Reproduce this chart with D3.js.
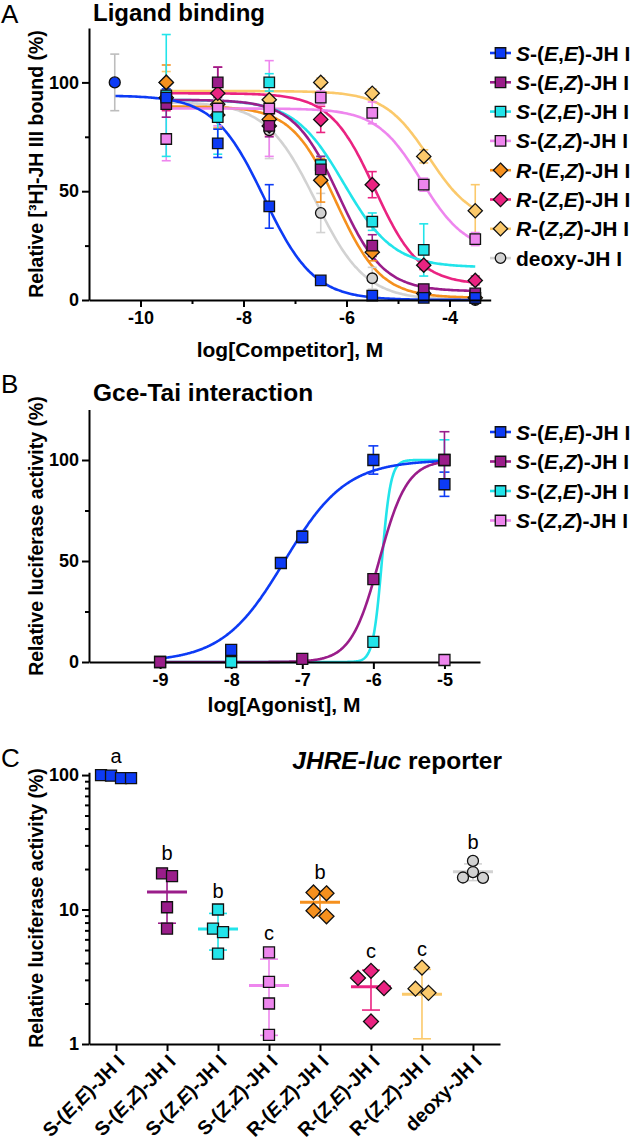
<!DOCTYPE html>
<html><head><meta charset="utf-8">
<script src="https://cdn.jsdelivr.net/npm/d3@7"></script>
<style>
html,body{margin:0;padding:0;background:#fff;}
svg{display:block;}
</style></head><body>
<svg id="chart" width="633" height="1145"></svg>
<script>
// ================= DATA =================
// Series (shared by all panels)
const seriesNames = ["S-(E,E)-JH I","S-(E,Z)-JH I","S-(Z,E)-JH I","S-(Z,Z)-JH I","R-(E,Z)-JH I","R-(Z,E)-JH I","R-(Z,Z)-JH I","deoxy-JH I"];

// ---- Panel A: Ligand binding (log[Competitor], M) ----
const aConc = [-9.5, -8.5, -7.5, -6.5, -5.5, -4.5, -3.5];
const aSEE   = [93, 72, 43, 9, 2, 1, 1],        aSEEerr   = [4, 6.5, 10, 1, 1, 0.5, 0.5];
const aSEZ   = [90, 100, 80, 60, 25, 5, 3],     aSEZerr   = [6, 7, 5, 6, 5, 2, 1];
const aSZE   = [94, 84, 100, 62, 36, 23, 1],    aSZEerr   = [28, 17, 4, 4, 4, 12, 1];
const aSZZ   = [74, 88, 88, 93, 86, 53, 28],    aSZZerr   = [10, 8, 22, 3, 5, 3, 3];
const aREZ   = [100, 85, 83, 55, 22, 3, 1],     aREZerr   = [8, 6, 4, 10, 4, 1, 1];
const aRZE   = [93, 95, 80, 83, 53, 16, 9],     aRZEerr   = [6, 12, 4, 6, 6, 2, 2];
const aRZZ   = [100, 90, 92, 100, 95, 66, 41],  aRZZerr   = [5, 5, 4, 2, 2, 3, 12];
const aDeoxy = [93, 88, 78, 40, 10, 2, 0],      aDeoxyErr = [4, 4, 13, 9, 5, 1, 1];
const aControlConc = -10.5, aControl = 100, aControlErr = 13;
// fitted curve parameters (one per series)
const aTop        = [94, 92, 92, 88, 89, 95, 96, 91];
const aBottom     = [0, 4, 15, 22, 1, 7, 35, 0];
const aLogIC50    = [-7.6, -6.15, -6.05, -4.55, -6.2, -5.45, -4.4, -6.6];
const aHill       = [0.9, 1, 0.9, 1, 1, 1, 1, 0.9];
const aCurveStart = [-10.5, -9.5, -9.5, -9.5, -9.5, -9.5, -9.5, -9.5];
const aCurveEnd   = -3.5;
const aXTicks = [-10, -8, -6, -4], aXMinor = [-9, -7, -5];
const aYTicks = [0, 50, 100], aYMinor = [25, 75];

// ---- Panel B: Gce-Tai interaction (log[Agonist], M) ----
const bConcSEE = [-9, -8, -7.301, -7, -6, -5], bSEE = [0, 6, 49, 62, 100, 88], bSEEerr = [0.5, 1, 1.5, 3, 7, 6];
const bConcSEZ = [-9, -7, -6, -5],             bSEZ = [0, 1.5, 41, 100],       bSEZerr = [0.5, 0.5, 2, 14];
const bConcSZE = [-8, -6, -5],                 bSZE = [0, 10, 100],            bSZEerr = [0.5, 1, 10];
const bConcSZZ = [-5],                         bSZZ = [1],                     bSZZerr = [0.5];
const bTop = [100, 100, 100], bBottom = [0, 0, 0], bLogEC50 = [-7.25, -5.92, -5.88], bHill = [1, 2.2, 7];
const bCurveStart = -9, bCurveEnd = -5;
const bXTicks = [-9, -8, -7, -6, -5];
const bYTicks = [0, 50, 100], bYMinor = [25, 75];

// ---- Panel C: JHRE-luc reporter (replicates, %) ----
const cSEE   = [99, 95, 95, 100];
const cSEZ   = [17.7, 18.6, 10.4, 7.2];
const cSZE   = [10, 7.2, 6.8, 4.7];
const cSZZ   = [4.8, 2.9, 2.0, 1.17];
const cREZ   = [13.4, 13.2, 9.8, 8.9];
const cRZE   = [3.1, 3.5, 2.6, 1.47];
const cRZZ   = [2.4, 2.58, 3.7, 0.68];
const cDeoxy = [23, 19.0, 17.2, 17.3];
const cLetters = ["a", "b", "b", "c", "b", "c", "c", "b"];
const cYTicks = [1, 10, 100];
const cYMinor = [2,3,4,5,6,7,8,9,20,30,40,50,60,70,80,90];

// ================= STYLE =================
const FONT = '"Liberation Sans", Arial, Helvetica, sans-serif';
const colors  = ["#0d3bf5", "#9a1d8a", "#22e4ea", "#ee86ee", "#f5901e", "#ea2381", "#fbc96b", "#d2d2d2"];
const markers = ["square", "square", "square", "square", "diamond", "diamond", "diamond", "circle"];
const fmtNum = d => String(d);   // plain hyphen-minus as in the original

const svg = d3.select("#chart").attr("font-family", FONT);

function markerPath(type, s) {
  if (type === "square") { const h = s / 2; return `M${-h},${-h}H${h}V${h}H${-h}Z`; }
  if (type === "diamond") { const h = s * 0.68; return `M0,${-h}L${h},0L0,${h}L${-h},0Z`; }
  const r = s / 2; return `M${r},0A${r},${r} 0 1,1 ${-r},0A${r},${r} 0 1,1 ${r},0Z`;
}
function addRich(sel, label, italicPrefix) {
  const m = label.match(/^([SR])-\(([EZ]),([EZ])\)(.*)$/);
  const segs = m ? [[m[1], italicPrefix], ["-(", false], [m[2], true], [",", false], [m[3], true], [")" + m[4], false]] : [[label, false]];
  segs.forEach(([t, it]) => sel.append("tspan").text(t).attr("font-style", it ? "italic" : "normal"));
}
function styleAxis(g, fs) {
  g.attr("font-family", FONT).attr("font-size", fs);
  g.selectAll("path.domain").attr("stroke", "#000").attr("stroke-width", 2);
  g.selectAll(".tick line").attr("stroke", "#000").attr("stroke-width", 2);
  g.selectAll(".tick text").attr("fill", "#000").attr("font-weight", "bold");
}
function yTitle(text, cy) {
  svg.append("text").attr("transform", `translate(43,${cy}) rotate(-90)`)
    .attr("text-anchor", "middle").attr("font-size", 19.5).attr("font-weight", "bold").text(text);
}
function panelLetter(t, y) {
  svg.append("text").attr("x", 1).attr("y", y).attr("font-size", 26).text(t);
}
function drawErr(g, x, y0, y1, color, half) {
  g.append("line").attr("x1", x).attr("x2", x).attr("y1", y0).attr("y2", y1).attr("stroke", color).attr("stroke-width", 1.6);
  [y0, y1].forEach(yy => g.append("line").attr("x1", x - half).attr("x2", x + half).attr("y1", yy).attr("y2", yy).attr("stroke", color).attr("stroke-width", 1.6));
}

// ================= PANEL A =================
(function () {
  const x = d3.scaleLinear().domain([-11, -3.2]).range([89, 490.7]);
  const y = d3.scaleLinear().domain([0, 125]).range([300, 28]);
  const vals = [aSEE, aSEZ, aSZE, aSZZ, aREZ, aRZE, aRZZ, aDeoxy];
  const errs = [aSEEerr, aSEZerr, aSZEerr, aSZZerr, aREZerr, aRZEerr, aRZZerr, aDeoxyErr];

  panelLetter("A", 23);
  svg.append("text").attr("x", 93).attr("y", 21).attr("font-size", 24).attr("font-weight", "bold").text("Ligand binding");
  yTitle("Relative [³H]-JH III bound (%)", 164);
  svg.append("text").attr("x", 290).attr("y", 357).attr("text-anchor", "middle").attr("font-size", 21).attr("font-weight", "bold").text("log[Competitor], M");

  const order = [7, 6, 5, 4, 3, 2, 1, 0];
  const gc = svg.append("g");
  const line = d3.line().x(d => x(d[0])).y(d => y(d[1])).curve(d3.curveBasis);
  order.forEach(i => {
    const pts = d3.range(0, 201).map(k => {
      const c = aCurveStart[i] + (aCurveEnd - aCurveStart[i]) * k / 200;
      return [c, aBottom[i] + (aTop[i] - aBottom[i]) / (1 + Math.pow(10, (c - aLogIC50[i]) * aHill[i]))];
    });
    gc.append("path").attr("d", line(pts)).attr("fill", "none").attr("stroke", colors[i]).attr("stroke-width", 2.6);
  });
  const ge = svg.append("g");
  drawErr(ge, x(aControlConc), y(aControl - aControlErr), y(aControl + aControlErr), "#bdbdbd", 4.5);
  order.forEach(i => aConc.forEach((c, k) => drawErr(ge, x(c), y(vals[i][k] - errs[i][k]), y(vals[i][k] + errs[i][k]), colors[i], 4.5)));
  const gm = svg.append("g");
  order.forEach(i => aConc.forEach((c, k) => {
    gm.append("path").attr("d", markerPath(markers[i], 10.5)).attr("transform", `translate(${x(c)},${y(vals[i][k])})`)
      .attr("fill", colors[i]).attr("stroke", "#111").attr("stroke-width", 1.3);
  }));
  gm.append("path").attr("d", markerPath("circle", 11)).attr("transform", `translate(${x(aControlConc)},${y(aControl)})`)
    .attr("fill", colors[0]).attr("stroke", "#111").attr("stroke-width", 1.3);

  const gx = svg.append("g").attr("transform", "translate(0,300)");
  gx.call(d3.axisBottom(x).tickValues(aXTicks).tickFormat(fmtNum).tickSize(7).tickSizeOuter(0).tickPadding(4));
  styleAxis(gx, 18);
  const gx2 = svg.append("g").attr("transform", "translate(0,300)");
  gx2.call(d3.axisBottom(x).tickValues(aXMinor).tickSize(4).tickFormat(""));
  gx2.select("path.domain").remove(); styleAxis(gx2, 18);
  const gy = svg.append("g").attr("transform", "translate(89,0)");
  gy.call(d3.axisLeft(y).tickValues(aYTicks).tickFormat(fmtNum).tickSize(7).tickSizeOuter(0).tickPadding(3));
  styleAxis(gy, 18);
  const gy2 = svg.append("g").attr("transform", "translate(89,0)");
  gy2.call(d3.axisLeft(y).tickValues(aYMinor).tickSize(4).tickFormat(""));
  gy2.select("path.domain").remove(); styleAxis(gy2, 18);

  // legend
  const lg = svg.append("g");
  seriesNames.forEach((n, i) => {
    const yy = 53 + i * 29.3;
    lg.append("line").attr("x1", 490).attr("x2", 511).attr("y1", yy).attr("y2", yy).attr("stroke", colors[i]).attr("stroke-width", 2.6);
    lg.append("path").attr("d", markerPath(markers[i], 10.5)).attr("transform", `translate(500.5,${yy})`)
      .attr("fill", colors[i]).attr("stroke", "#111").attr("stroke-width", 1.3);
    const t = lg.append("text").attr("x", 516).attr("y", yy + 7.5).attr("font-size", 21).attr("font-weight", "bold");
    addRich(t, n, true);
  });
})();

// ================= PANEL B =================
(function () {
  const x = d3.scaleLinear().domain([-10, -4.5]).range([89, 480]);
  const y = d3.scaleLinear().domain([0, 125]).range([662, 409.5]);
  const concs = [bConcSEE, bConcSEZ, bConcSZE, bConcSZZ];
  const vals = [bSEE, bSEZ, bSZE, bSZZ];
  const errs = [bSEEerr, bSEZerr, bSZEerr, bSZZerr];

  panelLetter("B", 393);
  svg.append("text").attr("x", 93).attr("y", 401).attr("font-size", 24.5).attr("font-weight", "bold").text("Gce-Tai interaction");
  yTitle("Relative luciferase activity (%)", 536);
  svg.append("text").attr("x", 284).attr("y", 712).attr("text-anchor", "middle").attr("font-size", 21).attr("font-weight", "bold").text("log[Agonist], M");

  const line = d3.line().x(d => x(d[0])).y(d => y(d[1]));
  [2, 0, 1].forEach(i => {
    const pts = d3.range(0, 401).map(k => {
      const c = bCurveStart + (bCurveEnd - bCurveStart) * k / 400;
      return [c, bBottom[i] + (bTop[i] - bBottom[i]) / (1 + Math.pow(10, (bLogEC50[i] - c) * bHill[i]))];
    });
    svg.append("path").attr("d", line(pts)).attr("fill", "none").attr("stroke", colors[i]).attr("stroke-width", 2.6);
  });
  const ge = svg.append("g");
  [0, 2, 1, 3].forEach(i => concs[i].forEach((c, k) => drawErr(ge, x(c), y(vals[i][k] - errs[i][k]), y(vals[i][k] + errs[i][k]), colors[i], 5)));

  const gx = svg.append("g").attr("transform", "translate(0,662)");
  gx.call(d3.axisBottom(x).tickValues(bXTicks).tickFormat(fmtNum).tickSize(7).tickSizeOuter(0).tickPadding(4));
  styleAxis(gx, 18);
  const gy = svg.append("g").attr("transform", "translate(89,0)");
  gy.call(d3.axisLeft(y).tickValues(bYTicks).tickFormat(fmtNum).tickSize(7).tickSizeOuter(0).tickPadding(3));
  styleAxis(gy, 18);
  const gy2 = svg.append("g").attr("transform", "translate(89,0)");
  gy2.call(d3.axisLeft(y).tickValues(bYMinor).tickSize(4).tickFormat(""));
  gy2.select("path.domain").remove(); styleAxis(gy2, 18);

  const gm = svg.append("g");
  [0, 2, 1, 3].forEach(i => concs[i].forEach((c, k) => {
    gm.append("path").attr("d", markerPath(markers[i], 11)).attr("transform", `translate(${x(c)},${y(vals[i][k])})`)
      .attr("fill", colors[i]).attr("stroke", "#111").attr("stroke-width", 1.3);
  }));

  const lg = svg.append("g");
  seriesNames.slice(0, 4).forEach((n, i) => {
    const yy = 432 + i * 29.5;
    lg.append("line").attr("x1", 490).attr("x2", 511).attr("y1", yy).attr("y2", yy).attr("stroke", colors[i]).attr("stroke-width", 2.6);
    lg.append("path").attr("d", markerPath(markers[i], 10.5)).attr("transform", `translate(500.5,${yy})`)
      .attr("fill", colors[i]).attr("stroke", "#111").attr("stroke-width", 1.3);
    const t = lg.append("text").attr("x", 516).attr("y", yy + 7.5).attr("font-size", 21).attr("font-weight", "bold");
    addRich(t, n, true);
  });
})();

// ================= PANEL C =================
(function () {
  const x = d3.scalePoint().domain(seriesNames).range([89, 500]).padding(0.53);
  const y = d3.scaleLog().domain([1, 105]).range([1044, 772.2]);
  const groups = [cSEE, cSEZ, cSZE, cSZZ, cREZ, cRZE, cRZZ, cDeoxy];

  panelLetter("C", 767);
  const tt = svg.append("text").attr("x", 502).attr("y", 769).attr("text-anchor", "end").attr("font-size", 24.5).attr("font-weight", "bold");
  tt.append("tspan").attr("font-style", "italic").text("JHRE-luc");
  tt.append("tspan").text(" reporter");
  yTitle("Relative luciferase activity (%)", 908);

  const gy = svg.append("g").attr("transform", "translate(89,0)");
  gy.call(d3.axisLeft(y).tickValues(cYTicks).tickFormat(fmtNum).tickSize(7).tickSizeOuter(0).tickPadding(3));
  styleAxis(gy, 18);
  const gy2 = svg.append("g").attr("transform", "translate(89,0)");
  gy2.call(d3.axisLeft(y).tickValues(cYMinor).tickSize(4).tickFormat(""));
  gy2.select("path.domain").remove(); styleAxis(gy2, 18);
  const gx = svg.append("g").attr("transform", "translate(0,1044)");
  gx.call(d3.axisBottom(x).tickSize(7).tickSizeOuter(0).tickFormat(""));
  styleAxis(gx, 18);

  seriesNames.forEach((n, i) => {
    const t = svg.append("text").attr("transform", `translate(${x(n) + 5},${1058}) rotate(-45)`)
      .attr("text-anchor", "end").attr("dy", "0.35em").attr("font-size", 19.5).attr("font-weight", "bold");
    addRich(t, n, false);
  });

  const g = svg.append("g");
  groups.forEach((arr, i) => {
    const cx = x(seriesNames[i]);
    const mean = d3.mean(arr), sd = d3.deviation(arr);
    const col = colors[i];
    const lo = Math.max(mean - sd, 1);
    // SD bar
    g.append("line").attr("x1", cx).attr("x2", cx).attr("y1", y(lo)).attr("y2", y(mean + sd)).attr("stroke", col).attr("stroke-width", 1.6);
    [mean - sd, mean + sd].filter(v => v >= 1).forEach(v => g.append("line").attr("x1", cx - 9).attr("x2", cx + 9).attr("y1", y(v)).attr("y2", y(v)).attr("stroke", col).attr("stroke-width", 1.6));
    g.append("line").attr("x1", cx - 20).attr("x2", cx + 20).attr("y1", y(mean)).attr("y2", y(mean)).attr("stroke", col).attr("stroke-width", 3);

    // dodge: cluster points with close pixel y and spread them horizontally
    const pts = arr.filter(v => v >= 1).map(v => ({ v, py: y(v) })).sort((a, b) => a.py - b.py);
    const size = markers[i] === "diamond" ? 13 : 10;
    const clusters = [];
    pts.forEach(p => {
      const last = clusters[clusters.length - 1];
      if (last && p.py - last[last.length - 1].py < size) last.push(p); else clusters.push([p]);
    });
    clusters.forEach(cl => {
      if (cl.length === 3) { [0, -1, 1].forEach((o, k) => { cl[k].dx = o * size; }); }
      else cl.forEach((p, k) => { p.dx = (k - (cl.length - 1) / 2) * size; });
    });
    pts.forEach(p => {
      g.append("path").attr("d", markerPath(markers[i], 11)).attr("transform", `translate(${cx + p.dx},${p.py})`)
        .attr("fill", col).attr("stroke", "#111").attr("stroke-width", 1.3);
    });
    const topY = Math.min(y(d3.max(arr)), y(mean + sd));
    svg.append("text").attr("x", cx).attr("y", topY - 12).attr("text-anchor", "middle").attr("font-size", 20).text(cLetters[i]);
  });
})();
</script>
</body></html>
